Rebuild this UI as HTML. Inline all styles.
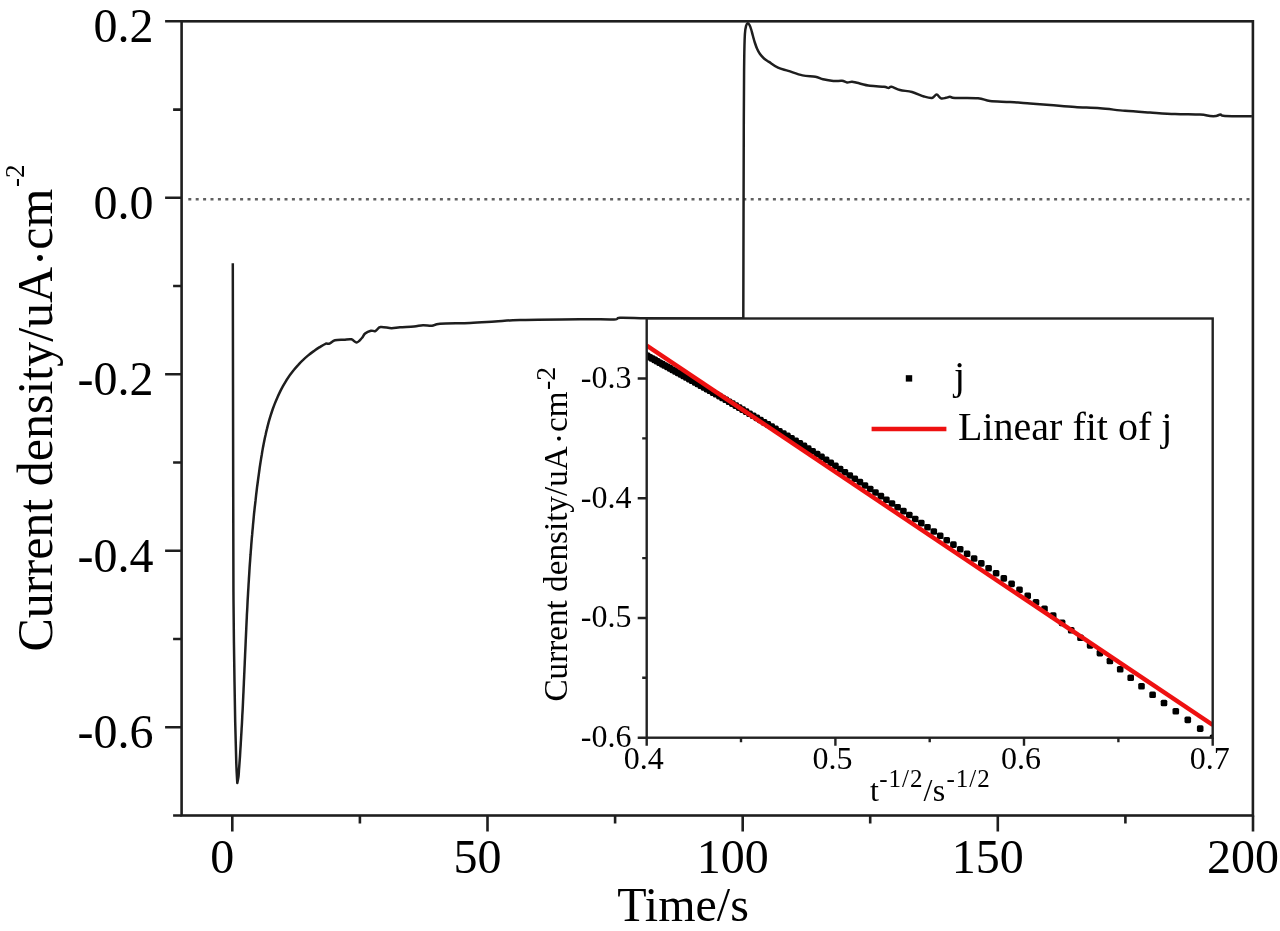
<!DOCTYPE html>
<html><head><meta charset="utf-8"><style>
html,body{margin:0;padding:0;background:#fff;width:1280px;height:931px;overflow:hidden}
svg{display:block;filter:blur(0.35px)}
text{font-family:"Liberation Serif",serif}
</style></head><body>
<svg width="1280" height="931" viewBox="0 0 1280 931">
<defs><clipPath id="ic"><rect x="646.7" y="318.5" width="566.0" height="419.2"/></clipPath>
<clipPath id="mc"><rect x="181.6" y="20.3" width="1071.3" height="795.2"/></clipPath></defs>
<rect width="1280" height="931" fill="#fff"/>
<line x1="188.3" y1="199.2" x2="1251.9" y2="199.2" stroke="#606060" stroke-width="2.6" stroke-dasharray="3 4.4"/>
<path d="M232.8,263.2 C232.87,301.00 233.08,433.87 233.2,490.0 C233.32,546.13 233.33,571.50 233.5,600.0 C233.67,628.50 233.92,640.67 234.2,661.0 C234.48,681.33 234.85,704.92 235.2,722.0 C235.55,739.08 235.95,753.33 236.3,763.5 C236.65,773.67 237.13,779.75 237.3,783.0 C237.50,781.91 238.21,778.71 238.5,776.5 C238.79,774.27 238.85,771.96 239.0,769.7 C239.19,767.44 239.35,765.17 239.5,762.9 C239.67,760.65 239.83,758.38 240.0,756.1 C240.13,753.86 240.28,751.60 240.4,749.3 C240.56,747.08 240.70,744.82 240.8,742.6 C240.98,740.30 241.11,738.05 241.2,735.8 C241.37,733.53 241.50,731.28 241.6,729.0 C241.76,726.76 241.88,724.50 242.0,722.2 C242.12,720.00 242.23,717.74 242.3,715.5 C242.47,713.24 242.58,710.98 242.7,708.7 C242.80,706.48 242.90,704.23 243.0,702.0 C243.12,699.73 243.23,697.47 243.3,695.2 C243.44,692.97 243.54,690.73 243.6,688.5 C243.74,686.23 243.84,683.98 243.9,681.7 C244.04,679.48 244.14,677.24 244.2,675.0 C244.34,672.74 244.43,670.50 244.5,668.2 C244.63,666.00 244.73,663.76 244.8,661.5 C244.93,659.28 245.02,657.03 245.1,654.8 C245.22,652.55 245.31,650.30 245.4,648.1 C245.51,645.82 245.60,643.58 245.7,641.3 C245.80,639.10 245.90,636.86 246.0,634.6 C246.10,632.38 246.21,630.14 246.3,627.9 C246.41,625.66 246.52,623.43 246.6,621.2 C246.74,618.95 246.84,616.72 246.9,614.5 C247.06,612.24 247.17,610.00 247.3,607.8 C247.39,605.53 247.51,603.30 247.6,601.1 C247.75,598.84 247.87,596.60 248.0,594.4 C248.11,592.14 248.24,589.91 248.4,587.7 C248.50,585.45 248.62,583.21 248.8,581.0 C248.89,578.75 249.04,576.52 249.2,574.3 C249.32,572.06 249.46,569.84 249.6,567.6 C249.76,565.38 249.91,563.16 250.1,560.9 C250.23,558.70 250.39,556.48 250.6,554.2 C250.72,552.02 250.89,549.80 251.1,547.6 C251.23,545.35 251.41,543.12 251.6,540.9 C251.77,538.68 251.97,536.45 252.2,534.2 C252.35,532.01 252.55,529.78 252.8,527.6 C252.95,525.34 253.16,523.12 253.4,520.9 C253.59,518.68 253.81,516.46 254.0,514.2 C254.26,512.02 254.49,509.80 254.7,507.6 C254.97,505.36 255.21,503.15 255.5,500.9 C255.71,498.71 255.97,496.50 256.2,494.3 C256.49,492.06 256.76,489.85 257.0,487.6 C257.32,485.41 257.61,483.20 257.9,481.0 C258.19,478.76 258.49,476.55 258.8,474.3 C259.10,472.13 259.41,469.91 259.7,467.7 C260.05,465.49 260.39,463.28 260.7,461.1 C261.07,458.86 261.41,456.66 261.8,454.5 C262.15,452.26 262.53,450.06 262.9,447.9 C263.33,445.68 263.74,443.49 264.2,441.3 C264.62,439.13 265.07,436.97 265.6,434.8 C266.03,432.65 266.53,430.50 267.1,428.4 C267.59,426.24 268.15,424.11 268.7,422.0 C269.33,419.89 269.94,417.79 270.6,415.7 C271.24,413.63 271.91,411.56 272.6,409.5 C273.35,407.46 274.10,405.43 274.9,403.4 C275.68,401.41 276.51,399.41 277.4,397.4 C278.25,395.47 279.16,393.52 280.1,391.6 C281.08,389.66 282.08,387.76 283.1,385.9 C284.18,384.00 285.28,382.15 286.4,380.3 C287.58,378.51 288.78,376.71 290.0,374.9 C291.30,373.19 292.61,371.45 294.0,369.8 C295.35,368.07 296.77,366.41 298.3,364.8 C299.75,363.17 301.29,361.59 302.9,360.1 C304.51,358.51 306.19,357.02 307.9,355.6 C309.68,354.12 311.49,352.71 313.4,351.4 C315.25,349.99 317.20,348.69 319.2,347.4 C321.26,346.18 323.82,344.46 325.5,343.8 C327.24,343.18 327.92,344.19 329.5,343.6 C331.08,343.01 332.62,340.95 335.0,340.3 C337.38,339.65 341.05,339.87 343.8,339.7 C346.55,339.53 349.35,338.83 351.5,339.3 C353.65,339.77 354.97,342.72 356.7,342.5 C358.43,342.28 360.50,339.50 361.9,338.0 C363.30,336.50 363.60,334.72 365.1,333.5 C366.60,332.28 369.18,331.12 370.9,330.7 C372.62,330.28 373.80,331.60 375.4,331.0 C377.00,330.40 377.82,327.57 380.5,327.1 C383.18,326.63 388.25,328.17 391.5,328.2 C394.75,328.23 396.25,327.58 400.0,327.3 C403.75,327.02 410.17,326.85 414.0,326.5 C417.83,326.15 420.00,325.32 423.0,325.2 C426.00,325.08 429.17,326.03 432.0,325.8 C434.83,325.57 433.67,324.27 440.0,323.8 C446.33,323.33 460.83,323.38 470.0,323.0 C479.17,322.62 486.67,322.00 495.0,321.5 C503.33,321.00 505.83,320.38 520.0,320.0 C534.17,319.62 564.33,319.30 580.0,319.2 C595.67,319.10 607.33,319.63 614.0,319.4 C620.67,319.17 614.67,317.98 620.0,317.8 C625.33,317.62 641.67,318.22 646.0,318.3 C662.22,318.33 727.08,318.47 743.3,318.5 C743.38,285.42 743.65,162.98 743.8,120.0 C743.95,77.02 744.02,74.93 744.2,60.6 C744.38,46.27 744.57,39.85 744.9,34.0 C745.23,28.15 745.73,27.30 746.2,25.5 C746.67,23.70 747.15,23.28 747.7,23.2 C748.25,23.12 748.92,23.95 749.5,25.0 C750.08,26.05 750.65,27.75 751.2,29.5 C751.75,31.25 752.20,33.33 752.8,35.5 C753.40,37.67 754.07,40.25 754.8,42.5 C755.53,44.75 756.33,47.07 757.2,49.0 C758.07,50.93 758.87,52.52 760.0,54.1 C761.13,55.68 762.50,57.20 764.0,58.5 C765.50,59.80 766.67,60.37 769.0,61.9 C771.33,63.43 774.78,66.20 778.0,67.7 C781.22,69.20 784.22,69.62 788.3,70.9 C792.38,72.18 797.98,74.43 802.5,75.4 C807.02,76.37 811.97,76.05 815.4,76.7 C818.83,77.35 820.10,78.58 823.1,79.3 C826.10,80.02 830.25,80.75 833.4,81.0 C836.55,81.25 839.73,80.57 842.0,80.8 C844.27,81.03 845.33,82.23 847.0,82.4 C848.67,82.57 850.33,81.73 852.0,81.8 C853.67,81.87 854.00,82.13 857.0,82.8 C860.00,83.47 865.50,85.13 870.0,85.8 C874.50,86.47 880.92,86.43 884.0,86.8 C887.08,87.17 887.25,88.00 888.5,88.0 C889.75,88.00 889.58,86.47 891.5,86.8 C893.42,87.13 896.58,89.13 900.0,90.0 C903.42,90.87 908.00,90.92 912.0,92.0 C916.00,93.08 920.67,95.50 924.0,96.5 C927.33,97.50 929.90,98.32 932.0,98.0 C934.10,97.68 935.10,94.53 936.6,94.6 C938.10,94.67 939.43,97.87 941.0,98.4 C942.57,98.93 944.50,98.07 946.0,97.8 C947.50,97.53 948.50,96.78 950.0,96.8 C951.50,96.82 950.33,97.67 955.0,97.9 C959.67,98.13 972.17,97.68 978.0,98.2 C983.83,98.72 984.67,100.37 990.0,101.0 C995.33,101.63 1003.33,101.58 1010.0,102.0 C1016.67,102.42 1023.33,103.00 1030.0,103.5 C1036.67,104.00 1042.50,104.42 1050.0,105.0 C1057.50,105.58 1066.67,106.45 1075.0,107.0 C1083.33,107.55 1091.67,107.67 1100.0,108.3 C1108.33,108.93 1116.67,110.10 1125.0,110.8 C1133.33,111.50 1141.67,111.97 1150.0,112.5 C1158.33,113.03 1166.67,113.65 1175.0,114.0 C1183.33,114.35 1194.17,114.27 1200.0,114.6 C1205.83,114.93 1207.33,115.77 1210.0,116.0 C1212.67,116.23 1214.25,116.23 1216.0,116.0 C1217.75,115.77 1219.00,114.60 1220.5,114.6 C1222.00,114.60 1219.77,115.72 1225.0,116.0 C1230.23,116.28 1247.42,116.25 1251.9,116.3" fill="none" stroke="#1e1e1e" stroke-width="2.5" stroke-linejoin="round" clip-path="url(#mc)"/>
<rect x="181.6" y="21.3" width="1071.3" height="794.2" fill="none" stroke="#1e1e1e" stroke-width="2.6"/>
<path d="M165.1,21.3H181.6M165.1,197.8H181.6M165.1,374.3H181.6M165.1,550.8H181.6M165.1,727.3H181.6M173.1,109.6H181.6M173.1,286.0H181.6M173.1,462.5H181.6M173.1,639.0H181.6M173.1,815.5H181.6M232.3,815.5V831.5M487.5,815.5V831.5M742.7,815.5V831.5M997.8,815.5V831.5M1253.0,815.5V831.5M359.9,815.5V823.5M615.1,815.5V823.5M870.2,815.5V823.5M1125.4,815.5V823.5" stroke="#1e1e1e" stroke-width="2.6" fill="none"/>
<rect x="646.7" y="318.5" width="566.0" height="419.2" fill="#fff"/>
<g clip-path="url(#ic)">
<rect x="1209.7" y="734.4" width="6.6" height="6.6" rx="1.6" fill="#000"/>
<rect x="1196.9" y="725.3" width="6.6" height="6.6" rx="1.6" fill="#000"/>
<rect x="1184.5" y="716.6" width="6.6" height="6.6" rx="1.6" fill="#000"/>
<rect x="1172.5" y="708.0" width="6.6" height="6.6" rx="1.6" fill="#000"/>
<rect x="1160.7" y="699.7" width="6.6" height="6.6" rx="1.6" fill="#000"/>
<rect x="1149.3" y="691.4" width="6.6" height="6.6" rx="1.6" fill="#000"/>
<rect x="1138.2" y="683.0" width="6.6" height="6.6" rx="1.6" fill="#000"/>
<rect x="1127.4" y="674.4" width="6.6" height="6.6" rx="1.6" fill="#000"/>
<rect x="1116.9" y="666.0" width="6.6" height="6.6" rx="1.6" fill="#000"/>
<rect x="1106.6" y="657.7" width="6.6" height="6.6" rx="1.6" fill="#000"/>
<rect x="1096.6" y="649.8" width="6.6" height="6.6" rx="1.6" fill="#000"/>
<rect x="1086.8" y="642.1" width="6.6" height="6.6" rx="1.6" fill="#000"/>
<rect x="1077.2" y="634.5" width="6.6" height="6.6" rx="1.6" fill="#000"/>
<rect x="1067.9" y="627.0" width="6.6" height="6.6" rx="1.6" fill="#000"/>
<rect x="1058.8" y="619.6" width="6.6" height="6.6" rx="1.6" fill="#000"/>
<rect x="1049.9" y="612.3" width="6.6" height="6.6" rx="1.6" fill="#000"/>
<rect x="1041.2" y="605.4" width="6.6" height="6.6" rx="1.6" fill="#000"/>
<rect x="1032.7" y="598.9" width="6.6" height="6.6" rx="1.6" fill="#000"/>
<rect x="1024.4" y="592.5" width="6.6" height="6.6" rx="1.6" fill="#000"/>
<rect x="1016.2" y="586.4" width="6.6" height="6.6" rx="1.6" fill="#000"/>
<rect x="1008.3" y="580.6" width="6.6" height="6.6" rx="1.6" fill="#000"/>
<rect x="1000.5" y="575.1" width="6.6" height="6.6" rx="1.6" fill="#000"/>
<rect x="992.8" y="570.0" width="6.6" height="6.6" rx="1.6" fill="#000"/>
<rect x="985.3" y="565.0" width="6.6" height="6.6" rx="1.6" fill="#000"/>
<rect x="978.0" y="560.1" width="6.6" height="6.6" rx="1.6" fill="#000"/>
<rect x="970.8" y="555.2" width="6.6" height="6.6" rx="1.6" fill="#000"/>
<rect x="963.8" y="550.5" width="6.6" height="6.6" rx="1.6" fill="#000"/>
<rect x="956.9" y="545.9" width="6.6" height="6.6" rx="1.6" fill="#000"/>
<rect x="950.1" y="541.3" width="6.6" height="6.6" rx="1.6" fill="#000"/>
<rect x="943.4" y="536.9" width="6.6" height="6.6" rx="1.6" fill="#000"/>
<rect x="936.9" y="532.5" width="6.6" height="6.6" rx="1.6" fill="#000"/>
<rect x="930.5" y="528.2" width="6.6" height="6.6" rx="1.6" fill="#000"/>
<rect x="924.2" y="524.0" width="6.6" height="6.6" rx="1.6" fill="#000"/>
<rect x="918.0" y="519.8" width="6.6" height="6.6" rx="1.6" fill="#000"/>
<rect x="911.9" y="515.7" width="6.6" height="6.6" rx="1.6" fill="#000"/>
<rect x="906.0" y="511.7" width="6.6" height="6.6" rx="1.6" fill="#000"/>
<rect x="900.1" y="507.8" width="6.6" height="6.6" rx="1.6" fill="#000"/>
<rect x="894.3" y="504.0" width="6.6" height="6.6" rx="1.6" fill="#000"/>
<rect x="888.7" y="500.2" width="6.6" height="6.6" rx="1.6" fill="#000"/>
<rect x="883.1" y="496.4" width="6.6" height="6.6" rx="1.6" fill="#000"/>
<rect x="877.6" y="492.8" width="6.6" height="6.6" rx="1.6" fill="#000"/>
<rect x="872.2" y="489.2" width="6.6" height="6.6" rx="1.6" fill="#000"/>
<rect x="866.9" y="485.7" width="6.6" height="6.6" rx="1.6" fill="#000"/>
<rect x="861.7" y="482.2" width="6.6" height="6.6" rx="1.6" fill="#000"/>
<rect x="856.6" y="478.8" width="6.6" height="6.6" rx="1.6" fill="#000"/>
<rect x="851.5" y="475.5" width="6.6" height="6.6" rx="1.6" fill="#000"/>
<rect x="846.5" y="472.2" width="6.6" height="6.6" rx="1.6" fill="#000"/>
<rect x="841.6" y="469.0" width="6.6" height="6.6" rx="1.6" fill="#000"/>
<rect x="836.8" y="465.8" width="6.6" height="6.6" rx="1.6" fill="#000"/>
<rect x="832.1" y="462.6" width="6.6" height="6.6" rx="1.6" fill="#000"/>
<rect x="827.4" y="459.6" width="6.6" height="6.6" rx="1.6" fill="#000"/>
<rect x="822.8" y="456.5" width="6.6" height="6.6" rx="1.6" fill="#000"/>
<rect x="818.2" y="453.6" width="6.6" height="6.6" rx="1.6" fill="#000"/>
<rect x="813.8" y="450.7" width="6.6" height="6.6" rx="1.6" fill="#000"/>
<rect x="809.3" y="448.0" width="6.6" height="6.6" rx="1.6" fill="#000"/>
<rect x="805.0" y="445.3" width="6.6" height="6.6" rx="1.6" fill="#000"/>
<rect x="800.7" y="442.6" width="6.6" height="6.6" rx="1.6" fill="#000"/>
<rect x="796.5" y="440.0" width="6.6" height="6.6" rx="1.6" fill="#000"/>
<rect x="792.3" y="437.5" width="6.6" height="6.6" rx="1.6" fill="#000"/>
<rect x="788.2" y="435.0" width="6.6" height="6.6" rx="1.6" fill="#000"/>
<rect x="784.1" y="432.6" width="6.6" height="6.6" rx="1.6" fill="#000"/>
<rect x="780.1" y="430.2" width="6.6" height="6.6" rx="1.6" fill="#000"/>
<rect x="776.1" y="427.9" width="6.6" height="6.6" rx="1.6" fill="#000"/>
<rect x="772.2" y="425.6" width="6.6" height="6.6" rx="1.6" fill="#000"/>
<rect x="768.4" y="423.3" width="6.6" height="6.6" rx="1.6" fill="#000"/>
<rect x="764.6" y="421.1" width="6.6" height="6.6" rx="1.6" fill="#000"/>
<rect x="760.8" y="418.9" width="6.6" height="6.6" rx="1.6" fill="#000"/>
<rect x="757.1" y="416.7" width="6.6" height="6.6" rx="1.6" fill="#000"/>
<rect x="753.5" y="414.6" width="6.6" height="6.6" rx="1.6" fill="#000"/>
<rect x="749.9" y="412.5" width="6.6" height="6.6" rx="1.6" fill="#000"/>
<rect x="746.3" y="410.4" width="6.6" height="6.6" rx="1.6" fill="#000"/>
<rect x="742.8" y="408.3" width="6.6" height="6.6" rx="1.6" fill="#000"/>
<rect x="739.3" y="406.3" width="6.6" height="6.6" rx="1.6" fill="#000"/>
<rect x="735.9" y="404.3" width="6.6" height="6.6" rx="1.6" fill="#000"/>
<rect x="732.5" y="402.3" width="6.6" height="6.6" rx="1.6" fill="#000"/>
<rect x="729.1" y="400.3" width="6.6" height="6.6" rx="1.6" fill="#000"/>
<rect x="725.8" y="398.4" width="6.6" height="6.6" rx="1.6" fill="#000"/>
<rect x="722.5" y="396.5" width="6.6" height="6.6" rx="1.6" fill="#000"/>
<rect x="719.3" y="394.7" width="6.6" height="6.6" rx="1.6" fill="#000"/>
<rect x="716.1" y="392.8" width="6.6" height="6.6" rx="1.6" fill="#000"/>
<rect x="712.9" y="391.0" width="6.6" height="6.6" rx="1.6" fill="#000"/>
<rect x="709.8" y="389.3" width="6.6" height="6.6" rx="1.6" fill="#000"/>
<rect x="706.7" y="387.5" width="6.6" height="6.6" rx="1.6" fill="#000"/>
<rect x="703.7" y="385.8" width="6.6" height="6.6" rx="1.6" fill="#000"/>
<rect x="700.6" y="384.1" width="6.6" height="6.6" rx="1.6" fill="#000"/>
<rect x="697.6" y="382.4" width="6.6" height="6.6" rx="1.6" fill="#000"/>
<rect x="694.7" y="380.7" width="6.6" height="6.6" rx="1.6" fill="#000"/>
<rect x="691.8" y="379.1" width="6.6" height="6.6" rx="1.6" fill="#000"/>
<rect x="688.9" y="377.4" width="6.6" height="6.6" rx="1.6" fill="#000"/>
<rect x="686.0" y="375.8" width="6.6" height="6.6" rx="1.6" fill="#000"/>
<rect x="683.2" y="374.2" width="6.6" height="6.6" rx="1.6" fill="#000"/>
<rect x="680.4" y="372.7" width="6.6" height="6.6" rx="1.6" fill="#000"/>
<rect x="677.6" y="371.1" width="6.6" height="6.6" rx="1.6" fill="#000"/>
<rect x="674.8" y="369.6" width="6.6" height="6.6" rx="1.6" fill="#000"/>
<rect x="672.1" y="368.1" width="6.6" height="6.6" rx="1.6" fill="#000"/>
<rect x="669.4" y="366.6" width="6.6" height="6.6" rx="1.6" fill="#000"/>
<rect x="666.8" y="365.1" width="6.6" height="6.6" rx="1.6" fill="#000"/>
<rect x="664.1" y="363.6" width="6.6" height="6.6" rx="1.6" fill="#000"/>
<rect x="661.5" y="362.2" width="6.6" height="6.6" rx="1.6" fill="#000"/>
<rect x="659.0" y="360.8" width="6.6" height="6.6" rx="1.6" fill="#000"/>
<rect x="656.4" y="359.4" width="6.6" height="6.6" rx="1.6" fill="#000"/>
<rect x="653.9" y="358.0" width="6.6" height="6.6" rx="1.6" fill="#000"/>
<rect x="651.4" y="356.6" width="6.6" height="6.6" rx="1.6" fill="#000"/>
<rect x="648.9" y="355.2" width="6.6" height="6.6" rx="1.6" fill="#000"/>
<rect x="646.4" y="353.9" width="6.6" height="6.6" rx="1.6" fill="#000"/>
<rect x="644.0" y="352.5" width="6.6" height="6.6" rx="1.6" fill="#000"/>
<rect x="641.6" y="351.0" width="6.6" height="6.6" rx="1.6" fill="#000"/>
<line x1="646.7" y1="345.5" x2="1212.7" y2="725.0" stroke="#ee1111" stroke-width="4.4"/>
</g>
<rect x="646.7" y="318.5" width="566.0" height="419.2" fill="none" stroke="#222" stroke-width="2.4"/>
<path d="M637.7,378.5H646.7M637.7,498.2H646.7M637.7,618.0H646.7M637.7,737.7H646.7M642.2,438.4H646.7M642.2,558.1H646.7M642.2,677.8H646.7M646.7,737.7V745.7M835.4,737.7V745.7M1024.0,737.7V745.7M1212.7,737.7V745.7M741.0,737.7V742.2M929.7,737.7V742.2M1118.4,737.7V742.2" stroke="#222" stroke-width="2.4" fill="none"/>
<rect x="905.8" y="375.2" width="6.4" height="6.4" fill="#000"/>
<line x1="871.6" y1="429" x2="946.4" y2="429" stroke="#ee1111" stroke-width="4.4"/>
<text x="153.5" y="42.1" font-size="48" text-anchor="end" font-family="Liberation Serif, serif" fill="#000" >0.2</text>
<text x="153.5" y="218.6" font-size="48" text-anchor="end" font-family="Liberation Serif, serif" fill="#000" >0.0</text>
<text x="153.5" y="395.1" font-size="48" text-anchor="end" font-family="Liberation Serif, serif" fill="#000" >-0.2</text>
<text x="153.5" y="571.6" font-size="48" text-anchor="end" font-family="Liberation Serif, serif" fill="#000" >-0.4</text>
<text x="153.5" y="748.1" font-size="48" text-anchor="end" font-family="Liberation Serif, serif" fill="#000" >-0.6</text>
<text x="222.3" y="872.8" font-size="48" text-anchor="middle" font-family="Liberation Serif, serif" fill="#000" >0</text>
<text x="477.5" y="872.8" font-size="48" text-anchor="middle" font-family="Liberation Serif, serif" fill="#000" >50</text>
<text x="732.7" y="872.8" font-size="48" text-anchor="middle" font-family="Liberation Serif, serif" fill="#000" >100</text>
<text x="987.8" y="872.8" font-size="48" text-anchor="middle" font-family="Liberation Serif, serif" fill="#000" >150</text>
<text x="1243.0" y="872.8" font-size="48" text-anchor="middle" font-family="Liberation Serif, serif" fill="#000" >200</text>
<text x="683.0" y="920.6" font-size="48" text-anchor="middle" font-family="Liberation Serif, serif" fill="#000" >Time/s</text>
<text transform="translate(52.4,651.5) rotate(-90)" font-size="50" font-family="Liberation Serif, serif" fill="#000">Current density/uA<tspan dx="0.5" dy="4.8">·</tspan><tspan dy="-4.8">cm</tspan><tspan dx="1.5" dy="-28" font-size="27">-2</tspan></text>
<text x="631.5" y="387.8" font-size="32" text-anchor="end" font-family="Liberation Serif, serif" fill="#000" >-0.3</text>
<text x="631.5" y="507.5" font-size="32" text-anchor="end" font-family="Liberation Serif, serif" fill="#000" >-0.4</text>
<text x="631.5" y="627.3" font-size="32" text-anchor="end" font-family="Liberation Serif, serif" fill="#000" >-0.5</text>
<text x="631.5" y="747.0" font-size="32" text-anchor="end" font-family="Liberation Serif, serif" fill="#000" >-0.6</text>
<text x="643.7" y="768.6" font-size="32" text-anchor="middle" font-family="Liberation Serif, serif" fill="#000" >0.4</text>
<text x="832.4" y="768.6" font-size="32" text-anchor="middle" font-family="Liberation Serif, serif" fill="#000" >0.5</text>
<text x="1021.0" y="768.6" font-size="32" text-anchor="middle" font-family="Liberation Serif, serif" fill="#000" >0.6</text>
<text x="1209.7" y="768.6" font-size="32" text-anchor="middle" font-family="Liberation Serif, serif" fill="#000" >0.7</text>
<text x="870.0" y="801.2" font-size="32" text-anchor="start" font-family="Liberation Serif, serif" fill="#000" >t</text>
<text x="879.2" y="786.9" font-size="25" letter-spacing="1" font-family="Liberation Serif, serif" fill="#000">-1/2</text>
<text x="923.4" y="801.2" font-size="32" text-anchor="start" font-family="Liberation Serif, serif" fill="#000" >/</text>
<text x="932.8" y="801.2" font-size="32" text-anchor="start" font-family="Liberation Serif, serif" fill="#000" >s</text>
<text x="946.5" y="786.9" font-size="25" letter-spacing="1" font-family="Liberation Serif, serif" fill="#000">-1/2</text>
<text transform="translate(567.4,701.6) rotate(-90)" font-size="33.2" font-family="Liberation Serif, serif" fill="#000">Current density/uA<tspan dx="2.2" dy="3">·</tspan><tspan dx="1" dy="-3">cm</tspan><tspan dx="1.5" dy="-12.5" font-size="28">-2</tspan></text>
<text x="954.0" y="389.0" font-size="40" text-anchor="start" font-family="Liberation Serif, serif" fill="#000" >j</text>
<text x="958.0" y="439.9" font-size="40" text-anchor="start" font-family="Liberation Serif, serif" fill="#000" >Linear fit of j</text>
</svg>
</body></html>
